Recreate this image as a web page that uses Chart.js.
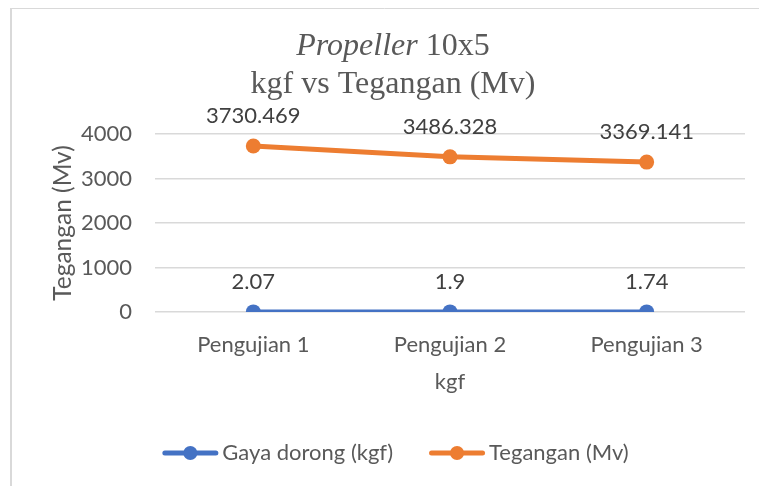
<!DOCTYPE html>
<html>
<head>
<meta charset="utf-8">
<script src="https://cdn.jsdelivr.net/npm/chart.js@4/dist/chart.umd.min.js"></script>
<style>
  html, body { margin: 0; padding: 0; background: #ffffff; }
  #wrap { position: relative; width: 759px; height: 486px; }
</style>
</head>
<body>
<div id="wrap"><canvas id="c" width="759" height="486"></canvas></div>
<script>
// ---- data ----
const categories = ['Pengujian 1', 'Pengujian 2', 'Pengujian 3'];
const gayaDorong = [2.07, 1.9, 1.74];
const tegangan = [3730.469, 3486.328, 3369.141];
const gayaLabels = ['2.07', '1.9', '1.74'];
const teganganLabels = ['3730.469', '3486.328', '3369.141'];
const yTicks = [0, 1000, 2000, 3000, 4000];
const seriesNames = ['Gaya dorong (kgf)', 'Tegangan (Mv)'];
const titleItalic = 'Propeller';
const titleRest = ' 10x5';
const titleLine2 = 'kgf vs Tegangan (Mv)';
const xTitle = 'kgf';
const yTitle = 'Tegangan (Mv)';

const BLUE = '#4472C4';
const ORANGE = '#ED7D31';
const TEXT = '#595959';
const LABEL = '#404040';
const SANS = 'Lato, "Open Sans", sans-serif';
const FS = 22;

const frame = {
  id: 'frame',
  beforeDraw(chart) {
    const ctx = chart.ctx;
    ctx.save();
    ctx.fillStyle = '#ffffff';
    ctx.fillRect(0, 0, chart.width, chart.height);
    ctx.strokeStyle = '#d9d9d9';
    ctx.lineWidth = 2;
    ctx.beginPath();
    ctx.moveTo(11, 486);
    ctx.lineTo(11, 8.5);
    ctx.stroke();
    ctx.lineWidth = 1;
    ctx.beginPath();
    ctx.moveTo(10, 8.5);
    ctx.lineTo(759, 8.5);
    ctx.stroke();
    ctx.restore();
  }
};

const titlePlugin = {
  id: 'titlePlugin',
  afterDraw(chart) {
    const ctx = chart.ctx;
    ctx.save();
    ctx.fillStyle = TEXT;
    ctx.textBaseline = 'middle';
    const cx = 393;
    const fItal = 'italic 32px "Liberation Serif", "Times New Roman", serif';
    const fReg = '32px "Liberation Serif", "Times New Roman", serif';
    ctx.font = fItal;
    const w1 = ctx.measureText(titleItalic).width;
    ctx.font = fReg;
    const w2 = ctx.measureText(titleRest).width;
    let x = cx - (w1 + w2) / 2;
    ctx.textAlign = 'left';
    ctx.font = fItal;
    ctx.fillText(titleItalic, x, 47);
    ctx.font = fReg;
    ctx.fillText(titleRest, x + w1, 47);
    ctx.textAlign = 'center';
    ctx.fillText(titleLine2, cx, 85);
    ctx.restore();
  }
};

const valueLabels = {
  id: 'valueLabels',
  afterDatasetsDraw(chart) {
    const ctx = chart.ctx;
    ctx.save();
    ctx.font = FS + 'px ' + SANS;
    ctx.fillStyle = LABEL;
    ctx.textAlign = 'center';
    ctx.textBaseline = 'middle';
    const sets = [gayaLabels, teganganLabels];
    chart.data.datasets.forEach((ds, i) => {
      const meta = chart.getDatasetMeta(i);
      meta.data.forEach((pt, j) => {
        ctx.fillText(sets[i][j], pt.x, pt.y - 30);
      });
    });
    ctx.restore();
  }
};

const legendPlugin = {
  id: 'customLegend',
  afterDraw(chart) {
    const ctx = chart.ctx;
    ctx.save();
    ctx.font = FS + 'px ' + SANS;
    const colors = [BLUE, ORANGE];
    const sample = 56, gapText = 4, gapItem = 36;
    const widths = seriesNames.map(n => ctx.measureText(n).width);
    const total = widths.reduce((a, b) => a + b, 0) + seriesNames.length * (sample + gapText) + gapItem * (seriesNames.length - 1);
    let x = 395.5 - total / 2;
    const y = 453;
    seriesNames.forEach((name, i) => {
      ctx.strokeStyle = colors[i];
      ctx.lineWidth = 5;
      ctx.lineCap = 'round';
      ctx.beginPath();
      ctx.moveTo(x + 2.5, y);
      ctx.lineTo(x + sample - 2.5, y);
      ctx.stroke();
      ctx.fillStyle = colors[i];
      ctx.beginPath();
      ctx.arc(x + sample / 2, y, 7, 0, Math.PI * 2);
      ctx.fill();
      ctx.fillStyle = TEXT;
      ctx.textAlign = 'left';
      ctx.textBaseline = 'middle';
      ctx.fillText(name, x + sample + gapText, y);
      x += sample + gapText + widths[i] + gapItem;
    });
    ctx.restore();
  }
};

new Chart(document.getElementById('c'), {
  type: 'line',
  data: {
    labels: categories,
    datasets: [
      {
        label: seriesNames[0],
        data: gayaDorong,
        borderColor: BLUE,
        backgroundColor: BLUE,
        borderWidth: 5,
        pointRadius: 7.5,
        pointHoverRadius: 7.5,
        pointBorderWidth: 0,
        borderCapStyle: 'round',
        tension: 0
      },
      {
        label: seriesNames[1],
        data: tegangan,
        borderColor: ORANGE,
        backgroundColor: ORANGE,
        borderWidth: 5,
        pointRadius: 7.5,
        pointHoverRadius: 7.5,
        pointBorderWidth: 0,
        borderCapStyle: 'round',
        tension: 0
      }
    ]
  },
  options: {
    responsive: false,
    animation: false,
    events: [],
    layout: { padding: { left: 12, right: 14, top: 134, bottom: 60 } },
    plugins: {
      legend: { display: false },
      title: { display: false },
      tooltip: { enabled: false }
    },
    scales: {
      x: {
        offset: true,
        grid: { display: false, drawTicks: false },
        border: { display: false },
        ticks: { color: TEXT, font: { family: SANS, size: FS }, padding: 20, maxRotation: 0 },
        title: { display: true, text: xTitle, color: TEXT, font: { family: SANS, size: FS }, padding: { top: 0, bottom: 31 } },
        afterFit(scale) { scale.height = 114; }
      },
      y: {
        min: 0,
        max: 4000,
        afterBuildTicks(scale) { scale.ticks = yTicks.map(v => ({ value: v })); },
        grid: { color: '#d9d9d9', lineWidth: 1.5, drawTicks: false },
        border: { display: false },
        ticks: { color: TEXT, font: { family: SANS, size: FS }, padding: 23, callback: (v) => String(v) },
        title: { display: true, text: yTitle, color: TEXT, font: { family: SANS, size: 24.5 }, padding: { top: 36, bottom: 0 } },
        afterFit(scale) { scale.width = 143; }
      }
    }
  },
  plugins: [frame, valueLabels, titlePlugin, legendPlugin]
});
</script>
</body>
</html>
